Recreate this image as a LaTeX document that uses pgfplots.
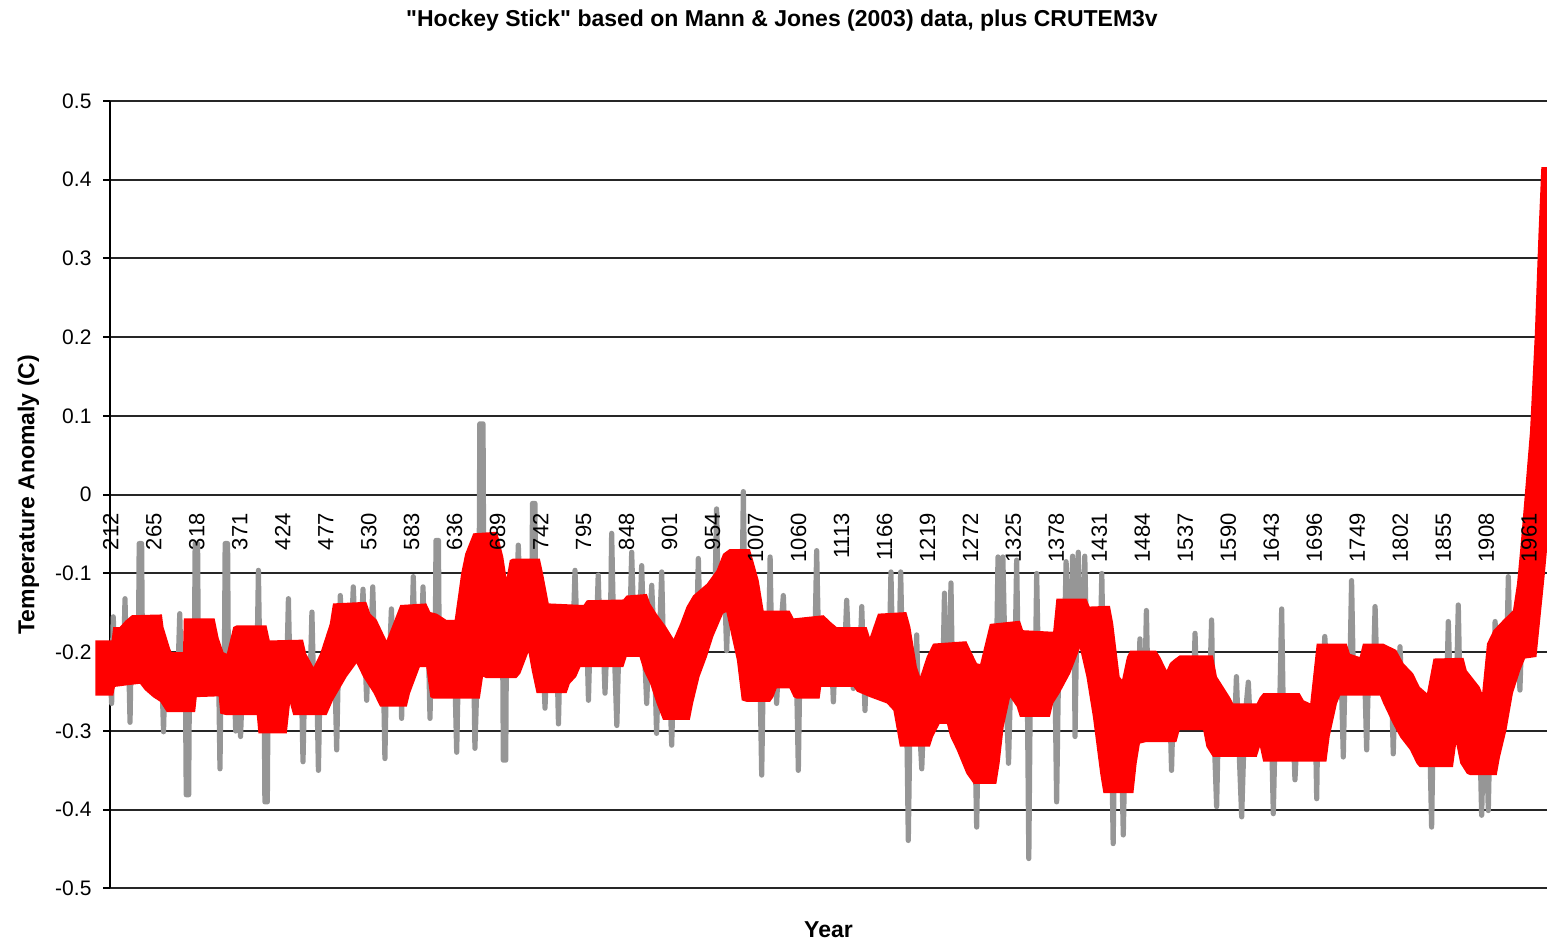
\documentclass[border=0pt]{standalone}
\usepackage{pgfplots}
\pgfplotsset{compat=1.18}
\usepackage{fontspec}
\setmainfont{Liberation Sans}[Ligatures=TeXOff]
\definecolor{graydata}{RGB}{150,150,150}
\definecolor{redline}{RGB}{255,0,0}
\pgfplotsset{
  /pgfplots/layers/labelsontop/.define layer set={
    axis background,axis grid,axis ticks,axis lines,main,
    axis tick labels,axis descriptions,axis foreground
  }{/pgfplots/layers/standard},
}
\begin{document}
\begin{tikzpicture}
\begin{axis}[
  set layers=labelsontop,
  scale only axis, width=718.5pt, height=393.75pt,
  xmin=211, xmax=1983, ymin=-0.5, ymax=0.5,
  clip=false,
  axis y line=left, axis x line=middle,
  x axis line style={-, black!85, line width=1pt},
  y axis line style={-, black, line width=1pt},
  hide obscured x ticks=false, hide obscured y ticks=false,
  ytick={-0.5,-0.4,-0.3,-0.2,-0.1,0,0.1,0.2,0.3,0.4,0.5},
  yticklabels={-0.5,-0.4,-0.3,-0.2,-0.1,0,0.1,0.2,0.3,0.4,0.5},
  xtick={212,265,318,371,424,477,530,583,636,689,742,795,848,901,954,1007,1060,1113,1166,1219,1272,1325,1378,1431,1484,1537,1590,1643,1696,1749,1802,1855,1908,1961},
  xticklabels={212,265,318,371,424,477,530,583,636,689,742,795,848,901,954,1007,1060,1113,1166,1219,1272,1325,1378,1431,1484,1537,1590,1643,1696,1749,1802,1855,1908,1961},
  xtick style={draw=none},
  ytick style={black, line width=1pt},
  tick align=outside, major tick length=3.5pt,
  ymajorgrids, grid style={black!85, line width=1pt},
  yticklabel style={font=\fontsize{10.5}{12}\selectfont, anchor=east, xshift=-2.25pt},
  xticklabel style={font=\fontsize{11}{13}\selectfont, yshift=-2.25pt, rotate=90, anchor=east},
  title={"Hockey Stick" based on Mann \& Jones (2003) data, plus CRUTEM3v},
  title style={at={(axis description cs:0.5,1)}, anchor=center, xshift=-23.25pt, yshift=34pt, font=\bfseries\fontsize{11.5}{13}\selectfont},
  xlabel={Year},
  xlabel style={at={(axis description cs:0.5,0)}, anchor=center, yshift=-20.75pt, font=\bfseries\fontsize{11.5}{13}\selectfont},
  ylabel={Temperature Anomaly (C)},
  ylabel style={at={(axis description cs:0,0.5)}, anchor=center, yshift=40.75pt, font=\bfseries\fontsize{11.5}{13}\selectfont},
]
% annual reconstruction (grey)
\addplot[graydata, line width=2.6pt, line join=round, mark=none] coordinates {
(211,-0.22)
(213,-0.265) (215,-0.155) (217,-0.21)
(228,-0.20) (229.5,-0.132) (231,-0.20)
(234,-0.21) (235.7,-0.289) (237,-0.21)
(246,-0.20) (247,-0.062) (250,-0.062) (251,-0.20)
(275,-0.23) (277,-0.301) (279,-0.22)
(295,-0.22) (297,-0.151) (299,-0.23)
(304,-0.24) (305,-0.381) (308,-0.381) (309,-0.23)
(315,-0.21) (316,-0.062) (319,-0.062) (320,-0.21)
(345,-0.23) (346.6,-0.348) (348,-0.23)
(352,-0.22) (353,-0.062) (356,-0.062) (357,-0.22)
(364,-0.23) (366,-0.30) (370,-0.22) (372,-0.307) (375,-0.22)
(392,-0.23) (394,-0.096) (396,-0.23)
(401,-0.24) (402,-0.390) (405,-0.390) (406,-0.24)
(429,-0.22) (431,-0.132) (433,-0.23)
(447,-0.24) (449,-0.339) (451,-0.24)
(458,-0.23) (460,-0.149) (462,-0.24)
(466,-0.24) (468,-0.350) (470,-0.24)
(488,-0.21) (490.5,-0.324) (493,-0.20) (495,-0.128) (497,-0.19)
(509,-0.17) (511,-0.117) (513,-0.17)
(521,-0.17) (523,-0.120) (525,-0.19) (527.5,-0.261) (530,-0.19)
(533,-0.18) (535,-0.117) (537,-0.19)
(548,-0.22) (550,-0.335) (552,-0.22)
(556,-0.20) (558,-0.145) (560,-0.20)
(569,-0.20) (570.6,-0.284) (572,-0.20)
(583,-0.19) (585,-0.104) (587,-0.19)
(595,-0.19) (597,-0.117) (599,-0.20)
(604,-0.21) (605.6,-0.284) (607,-0.21)
(612,-0.20) (613,-0.058) (616,-0.058) (617,-0.20)
(636,-0.22) (638.5,-0.327) (641,-0.20)
(659,-0.18) (661,-0.322) (666,-0.15) (667,0.090) (671,0.090) (672,-0.14)
(695,-0.16) (696,-0.337) (699,-0.337) (700,-0.16)
(712,-0.15) (714.5,-0.064) (717,-0.15)
(731,-0.15) (732,-0.011) (735,-0.011) (736,-0.16)
(745,-0.20) (747.4,-0.271) (750,-0.20)
(762,-0.20) (764,-0.291) (766,-0.20)
(782,-0.18) (784.4,-0.096) (787,-0.18)
(799,-0.18) (801,-0.261) (803,-0.18)
(811,-0.17) (813,-0.102) (815,-0.17)
(819,-0.18) (821.4,-0.252) (824,-0.18)
(828,-0.17) (829.6,-0.049) (832,-0.17) (836,-0.293) (839,-0.17)
(852,-0.17) (854.3,-0.073) (857,-0.17)
(864,-0.17) (866.6,-0.090) (869,-0.17) (872.8,-0.265) (876,-0.18) (879,-0.115) (882,-0.19) (885,-0.303) (888,-0.20) (891.3,-0.098) (894,-0.22)
(901,-0.23) (903.6,-0.318) (906,-0.23)
(934,-0.19) (936.5,-0.081) (939,-0.18)
(957,-0.13) (959,-0.018) (961,-0.13)
(969,-0.12) (971.4,-0.198) (974,-0.12)
(990,-0.15) (992,0.004) (994,-0.15)
(1012,-0.20) (1014.6,-0.356) (1017,-0.20)
(1023,-0.20) (1025,-0.079) (1027,-0.20)
(1031,-0.20) (1033,-0.265) (1036,-0.20) (1041.3,-0.128) (1044,-0.20)
(1057,-0.20) (1059.8,-0.350) (1062,-0.20)
(1080,-0.20) (1082.4,-0.071) (1085,-0.20)
(1101,-0.21) (1103,-0.263) (1105,-0.21)
(1117,-0.20) (1119.4,-0.134) (1122,-0.20)
(1126,-0.20) (1127.6,-0.246) (1130,-0.20)
(1136,-0.20) (1138,-0.142) (1140,-0.21) (1142,-0.274) (1144,-0.21)
(1172,-0.20) (1174,-0.098) (1176,-0.20)
(1184,-0.20) (1186,-0.098) (1188,-0.20)
(1193,-0.25) (1195.4,-0.439) (1198,-0.25)
(1204,-0.25) (1205.7,-0.178) (1208,-0.27) (1212,-0.348) (1215,-0.26)
(1238,-0.23) (1240,-0.125) (1242,-0.23)
(1246,-0.24) (1248,-0.112) (1250,-0.24)
(1277,-0.28) (1279.7,-0.422) (1282,-0.28)
(1304,-0.22) (1306,-0.079) (1308,-0.22)
(1310,-0.22) (1312,-0.079) (1315,-0.22) (1319,-0.341) (1322,-0.22)
(1327,-0.21) (1329,-0.083) (1331,-0.21)
(1342,-0.23) (1344,-0.462) (1346,-0.23)
(1352,-0.23) (1353.7,-0.100) (1356,-0.23)
(1376,-0.21) (1378.3,-0.390) (1381,-0.20)
(1388,-0.18) (1390,-0.085) (1392,-0.18)
(1396,-0.17) (1398,-0.078) (1400,-0.17) (1401,-0.307) (1403,-0.17) (1405,-0.073) (1407,-0.17)
(1411,-0.18) (1413,-0.078) (1415,-0.18)
(1432,-0.20) (1434,-0.100) (1436,-0.22)
(1446,-0.30) (1448,-0.443) (1450,-0.30)
(1458,-0.31) (1460.5,-0.432) (1463,-0.30)
(1479,-0.26) (1481,-0.183) (1483,-0.26)
(1487,-0.25) (1489,-0.147) (1491,-0.25)
(1518,-0.27) (1520,-0.350) (1522,-0.27)
(1547,-0.25) (1549,-0.176) (1551,-0.25)
(1567,-0.25) (1569.4,-0.159) (1571,-0.26) (1575.6,-0.396) (1578,-0.28)
(1598,-0.29) (1600,-0.231) (1602,-0.29) (1606.5,-0.409) (1610,-0.29) (1614.7,-0.238) (1617,-0.29)
(1643,-0.29) (1645.5,-0.405) (1648,-0.29)
(1653,-0.29) (1655.8,-0.145) (1658,-0.29)
(1670,-0.30) (1672.2,-0.362) (1675,-0.30)
(1697,-0.27) (1699,-0.386) (1701,-0.24)
(1707,-0.22) (1709,-0.180) (1711,-0.22)
(1729,-0.22) (1731.8,-0.333) (1734,-0.22)
(1740,-0.22) (1742,-0.109) (1744,-0.22)
(1758,-0.22) (1760.6,-0.324) (1763,-0.22)
(1769,-0.22) (1771,-0.142) (1773,-0.22)
(1791,-0.23) (1793.4,-0.329) (1796,-0.23)
(1800,-0.24) (1801.7,-0.193) (1804,-0.25)
(1838,-0.29) (1840.7,-0.422) (1843,-0.28)
(1859,-0.26) (1861.3,-0.161) (1864,-0.26)
(1871,-0.26) (1873.6,-0.140) (1876,-0.27)
(1900,-0.30) (1902.4,-0.407) (1905,-0.30)
(1908,-0.30) (1910.6,-0.401) (1913,-0.28)
(1917,-0.25) (1919,-0.161) (1921,-0.25)
(1933,-0.22) (1935.3,-0.104) (1938,-0.22)
(1947,-0.18) (1949.6,-0.248) (1952,-0.17)
};
% smoothed series plus CRUTEM3v (red band: upper edge, then lower edge back)
\addplot[fill=redline, draw=none, mark=none] coordinates {
(193,-0.185) (213,-0.185) (215,-0.168) (223,-0.168) (230,-0.160) (238,-0.153) (275,-0.152) (277,-0.168) (285,-0.195) (287,-0.200) (301,-0.200) (302,-0.157) (340,-0.157) (345,-0.182) (351,-0.200) (355,-0.202) (363,-0.168) (367,-0.166) (404,-0.166) (408,-0.185) (449,-0.184) (453,-0.202) (462,-0.219) (470,-0.202) (482,-0.164) (486,-0.138) (527,-0.136) (532,-0.151) (540,-0.159) (552,-0.185) (560,-0.164) (569,-0.140) (601,-0.138) (606,-0.149) (614,-0.151) (626,-0.159) (636,-0.159) (640,-0.130) (644,-0.100) (649,-0.075) (659,-0.049) (688,-0.047) (690,-0.054) (696,-0.079) (700,-0.106) (704,-0.083) (708,-0.081) (741,-0.081) (745,-0.100) (752,-0.138) (795,-0.140) (799,-0.134) (844,-0.133) (848,-0.128) (873,-0.126) (877,-0.138) (885,-0.151) (897,-0.168) (906,-0.183) (914,-0.164) (922,-0.142) (930,-0.128) (947,-0.113) (959,-0.096) (967,-0.075) (975,-0.069) (1000,-0.069) (1004,-0.083) (1011,-0.109) (1017,-0.147) (1049,-0.147) (1054,-0.157) (1091,-0.153) (1099,-0.161) (1107,-0.168) (1144,-0.168) (1148,-0.181) (1158,-0.151) (1193,-0.149) (1198,-0.168) (1206,-0.219) (1210,-0.231) (1218,-0.206) (1226,-0.189) (1267,-0.186) (1272,-0.197) (1280,-0.214) (1284,-0.215) (1296,-0.164) (1333,-0.160) (1337,-0.172) (1374,-0.174) (1378,-0.132) (1415,-0.132) (1419,-0.142) (1444,-0.141) (1448,-0.163) (1452,-0.197) (1456,-0.231) (1459,-0.235) (1465,-0.206) (1469,-0.198) (1501,-0.198) (1506,-0.206) (1514,-0.223) (1518,-0.214) (1522,-0.210) (1530,-0.204) (1571,-0.204) (1576,-0.231) (1584,-0.244) (1592,-0.257) (1596,-0.265) (1625,-0.265) (1629,-0.257) (1633,-0.252) (1678,-0.252) (1683,-0.261) (1691,-0.265) (1699,-0.189) (1736,-0.189) (1740,-0.202) (1752,-0.206) (1756,-0.189) (1781,-0.189) (1797,-0.197) (1806,-0.214) (1818,-0.227) (1826,-0.244) (1835,-0.252) (1843,-0.208) (1880,-0.207) (1884,-0.223) (1900,-0.244) (1903,-0.252) (1909,-0.189) (1917,-0.172) (1929,-0.159) (1941,-0.147) (1946,-0.113) (1950,-0.069) (1954,-0.020) (1958,0.030) (1962,0.080) (1968,0.205) (1972.5,0.332) (1976,0.416) (1983,0.416)
(1983,-0.070) (1980,-0.104) (1970,-0.206) (1956,-0.208) (1950,-0.223) (1941,-0.252) (1933,-0.299) (1925,-0.333) (1921,-0.356) (1888,-0.356) (1884,-0.354) (1876,-0.341) (1871,-0.316) (1867,-0.346) (1826,-0.346) (1822,-0.341) (1814,-0.324) (1802,-0.308) (1793,-0.291) (1781,-0.265) (1777,-0.255) (1728,-0.255) (1724,-0.265) (1715,-0.307) (1711,-0.339) (1633,-0.339) (1629,-0.320) (1625,-0.333) (1571,-0.333) (1563,-0.320) (1559,-0.299) (1530,-0.299) (1526,-0.314) (1489,-0.314) (1481,-0.316) (1477,-0.341) (1473,-0.379) (1436,-0.379) (1432,-0.354) (1423,-0.282) (1415,-0.231) (1407,-0.195) (1395,-0.227) (1382,-0.252) (1374,-0.265) (1370,-0.282) (1333,-0.282) (1329,-0.269) (1321,-0.257) (1313,-0.295) (1308,-0.341) (1304,-0.367) (1276,-0.367) (1267,-0.354) (1255,-0.324) (1247,-0.307) (1243,-0.291) (1234,-0.291) (1226,-0.307) (1222,-0.320) (1185,-0.320) (1177,-0.274) (1169,-0.265) (1148,-0.257) (1132,-0.250) (1128,-0.244) (1088,-0.244) (1086,-0.259) (1058,-0.259) (1054,-0.257) (1049,-0.246) (1033,-0.246) (1029,-0.257) (1025,-0.263) (996,-0.263) (990,-0.261) (984,-0.210) (975,-0.168) (971,-0.149) (967,-0.151) (955,-0.180) (947,-0.206) (938,-0.231) (930,-0.265) (926,-0.286) (893,-0.286) (885,-0.265) (877,-0.240) (869,-0.223) (864,-0.206) (848,-0.206) (844,-0.219) (791,-0.219) (786,-0.231) (778,-0.240) (774,-0.252) (737,-0.252) (731,-0.223) (727,-0.200) (717,-0.227) (712,-0.233) (675,-0.233) (671,-0.231) (667,-0.259) (610,-0.259) (606,-0.257) (601,-0.219) (593,-0.219) (581,-0.252) (577,-0.269) (544,-0.269) (536,-0.252) (523,-0.231) (515,-0.214) (503,-0.231) (486,-0.261) (478,-0.280) (437,-0.280) (433,-0.265) (429,-0.303) (394,-0.303) (392,-0.280) (355,-0.280) (347,-0.278) (345,-0.256) (318,-0.257) (316,-0.276) (281,-0.276) (273,-0.263) (264,-0.257) (254,-0.248) (248,-0.240) (232,-0.242) (217,-0.244) (215,-0.255) (193,-0.255)
};
\coordinate (ll) at (rel axis cs:0,0);
\coordinate (ur) at (rel axis cs:1,1);
\end{axis}
\pgfresetboundingbox
\path[use as bounding box] ([xshift=-55pt,yshift=-26.75pt]ll) rectangle ([yshift=50.5pt]ur);
\end{tikzpicture}
\end{document}
